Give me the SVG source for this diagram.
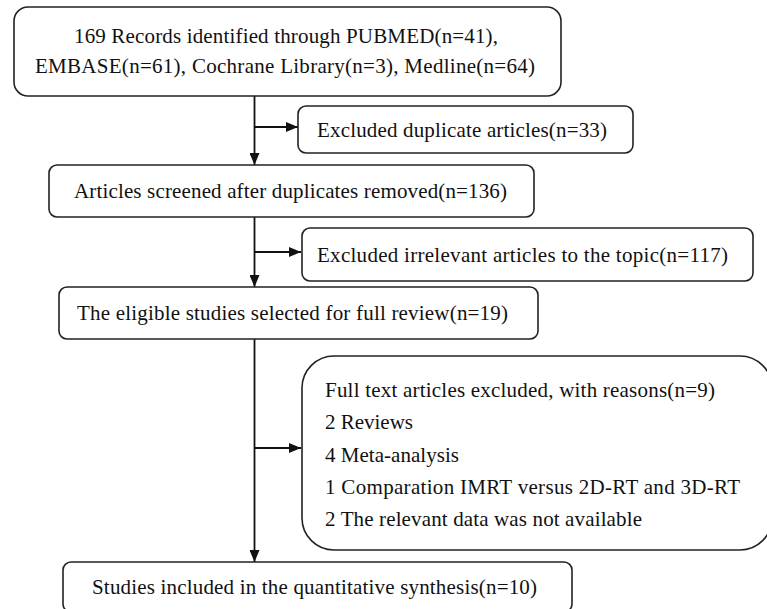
<svg xmlns="http://www.w3.org/2000/svg" width="767" height="609" viewBox="0 0 767 609">
  <defs>
    <marker id="arrow" viewBox="0 0 12 10" refX="12" refY="5" markerWidth="12" markerHeight="10" markerUnits="userSpaceOnUse" orient="auto">
      <path d="M0,0 L12,5 L0,10 Z" fill="#111"/>
    </marker>
  </defs>
  <style>
    .box { fill: #fff; stroke: #222; stroke-width: 1.6; }
    .lbl { font-family: "Liberation Serif", "Times New Roman", serif; font-size: 21px; fill: #111; }
    .edge { fill: none; stroke: #111; stroke-width: 1.8; }
  </style>
  <rect width="767" height="609" fill="#fff"/>

  <!-- flow connectors -->
  <g id="connectors">
    <line class="edge" x1="254.5" y1="96" x2="254.5" y2="165" marker-end="url(#arrow)"/>
    <line class="edge" x1="254.5" y1="127" x2="298" y2="127" marker-end="url(#arrow)"/>
    <line class="edge" x1="254.5" y1="217" x2="254.5" y2="287" marker-end="url(#arrow)"/>
    <line class="edge" x1="254.5" y1="252" x2="301" y2="252" marker-end="url(#arrow)"/>
    <line class="edge" x1="254.5" y1="339" x2="254.5" y2="562" marker-end="url(#arrow)"/>
    <line class="edge" x1="254.5" y1="448" x2="301" y2="448" marker-end="url(#arrow)"/>
  </g>

  <g id="records">
    <rect class="box" x="14" y="7" width="547" height="89" rx="14"/>
    <text class="lbl" x="74" y="43" textLength="424" lengthAdjust="spacing">169 Records identified through PUBMED(n=41),</text>
    <text class="lbl" x="35" y="73" textLength="500" lengthAdjust="spacing">EMBASE(n=61), Cochrane Library(n=3), Medline(n=64)</text>
  </g>

  <g id="duplicates">
    <rect class="box" x="298" y="106" width="335" height="47" rx="8"/>
    <text class="lbl" x="317" y="137" textLength="290" lengthAdjust="spacing">Excluded duplicate articles(n=33)</text>
  </g>

  <g id="screened">
    <rect class="box" x="49" y="165" width="485" height="52" rx="8"/>
    <text class="lbl" x="74" y="198" textLength="433" lengthAdjust="spacing">Articles screened after duplicates removed(n=136)</text>
  </g>

  <g id="irrelevant">
    <rect class="box" x="302" y="228" width="451" height="53" rx="8"/>
    <text class="lbl" x="317" y="262" textLength="411" lengthAdjust="spacing">Excluded irrelevant articles to the topic(n=117)</text>
  </g>

  <g id="eligible">
    <rect class="box" x="59" y="287" width="479" height="52" rx="8"/>
    <text class="lbl" x="77" y="320" textLength="431" lengthAdjust="spacing">The eligible studies selected for full review(n=19)</text>
  </g>

  <g id="fulltext-excluded">
    <rect class="box" x="302" y="356" width="470" height="194" rx="32"/>
    <text class="lbl" x="325" y="397" textLength="390" lengthAdjust="spacing">Full text articles excluded, with reasons(n=9)</text>
    <text class="lbl" x="325" y="429" textLength="88" lengthAdjust="spacing">2 Reviews</text>
    <text class="lbl" x="325" y="462" textLength="134" lengthAdjust="spacing">4 Meta-analysis</text>
    <text class="lbl" x="325" y="494" textLength="415" lengthAdjust="spacing">1 Comparation IMRT versus 2D-RT and 3D-RT</text>
    <text class="lbl" x="325" y="526" textLength="317" lengthAdjust="spacing">2 The relevant data was not available</text>
  </g>

  <g id="included">
    <rect class="box" x="63" y="562" width="509" height="50" rx="8"/>
    <text class="lbl" x="92" y="594" textLength="445" lengthAdjust="spacing">Studies included in the quantitative synthesis(n=10)</text>
  </g>
</svg>
